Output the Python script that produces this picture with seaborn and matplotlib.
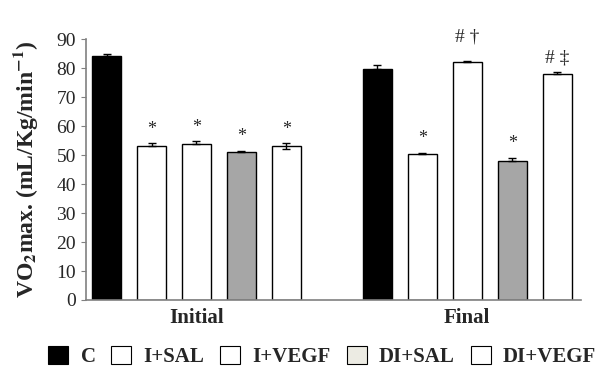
import pandas as pd
import numpy as np
import seaborn as sns
import matplotlib.pyplot as plt
from matplotlib.patches import Patch

fases = ['Initial', 'Final']
grupos = ['C', 'I+SAL', 'I+VEGF', 'DI+SAL', 'DI+VEGF']
vo2_initial = [84.1, 53.1, 54.0, 51.2, 53.1]
vo2_final = [79.9, 50.3, 82.2, 47.9, 77.9]
err_initial = [0.8, 1.0, 0.8, 0.4, 1.0]
err_final = [1.2, 0.5, 0.4, 1.2, 0.7]
marcas_initial = ['', '*', '*', '*', '*']
marcas_final = ['', '*', '# \u2020', '*', '# \u2021']

colores_barra = ['#000000', '#ffffff', '#ffffff', '#a6a6a6', '#ffffff']
colores_leyenda = ['#000000', '#ffffff', '#ffffff', '#ecebe3', '#ffffff']

def crea_df():
    filas = []
    for fase, vals in zip(fases, [vo2_initial, vo2_final]):
        for g, v in zip(grupos, vals):
            filas.append({'fase': fase, 'grupo': g, 'valor': v})
    return pd.DataFrame(filas)

def graficar(df):
    sns.set_style('white')
    plt.rcParams['font.family'] = ['Liberation Serif', 'DejaVu Serif']
    plt.rcParams['mathtext.fontset'] = 'stix'

    fig = plt.figure(figsize=(6, 3.85), dpi=100)
    ax = fig.add_axes([0.1433, 0.2208, 0.825, 0.677])

    sns.barplot(
        data=df, x='fase', y='valor', hue='grupo',
        order=fases, hue_order=grupos,
        palette=colores_barra, width=0.83, gap=0.356,
        edgecolor='black', linewidth=1.0, errorbar=None,
        legend=False, ax=ax,
    )

    errores = {'Initial': err_initial, 'Final': err_final}
    marcas = {'Initial': marcas_initial, 'Final': marcas_final}
    barras = list(ax.containers)
    for i, cont in enumerate(barras):
        for j, bar in enumerate(cont):
            fase = fases[j]
            xc = bar.get_x() + bar.get_width() / 2
            h = bar.get_height()
            e = errores[fase][i]
            abajo = e if (fase == 'Initial' and i == 4) else 0
            ax.errorbar(xc, h, yerr=[[abajo], [e]], fmt='none',
                        ecolor='black', elinewidth=1.0, capsize=3, capthick=1.0)
            m = marcas[fase][i]
            if m:
                # el "# †" va algo mas alto en el original
                dy = 11 if m == '# \u2020' else 4
                fs = 13 if m == '*' else 14
                ax.annotate(m, (xc, h + e), xytext=(0, dy), textcoords='offset points',
                            ha='center', va='bottom', fontsize=fs,
                            annotation_clip=False)

    ax.set_ylim(0, 90)
    ax.set_yticks(np.arange(0, 91, 10))
    ax.set_xlim(-0.408, 1.42)
    ax.set_xticklabels(fases, fontweight='bold', fontsize=15)
    ax.tick_params(axis='x', length=0, pad=6)
    ax.tick_params(axis='y', labelsize=14, length=3.8, color='#808080',
                   direction='out', left=True, pad=3.5)
    ax.set_xlabel('')
    ax.set_ylabel(r'VO$_\mathbf{2}$max. (mL/Kg/min$^\mathbf{-1}$)',
                  fontweight='bold', fontsize=17, labelpad=12)

    for lado in ['top', 'right']:
        ax.spines[lado].set_visible(False)
    for lado in ['left', 'bottom']:
        ax.spines[lado].set_color('#808080')
        ax.spines[lado].set_linewidth(1.2)
        ax.spines[lado].set_zorder(5)

    handles = [Patch(facecolor=c, edgecolor='black', linewidth=0.8)
               for c in colores_leyenda]
    fig.legend(handles, grupos, loc='center', bbox_to_anchor=(0.537, 0.073),
               ncol=5, frameon=False, handlelength=0.96, handleheight=0.96,
               handletextpad=0.6, columnspacing=0.75,
               prop={'weight': 'bold', 'size': 15})

    fig.savefig('out.png', dpi=100)

if __name__ == "__main__":
    df = crea_df()
    graficar(df)
